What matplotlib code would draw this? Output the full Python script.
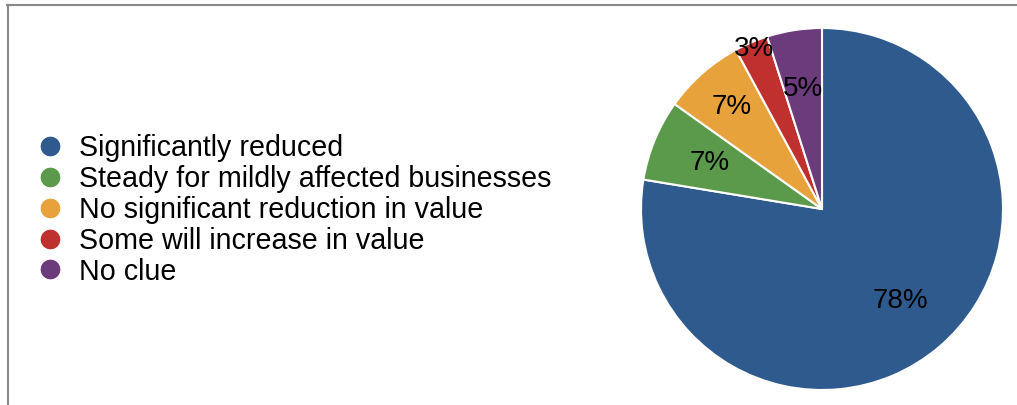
import numpy as np
import matplotlib
matplotlib.use('Agg')
import matplotlib.pyplot as plt
from matplotlib.lines import Line2D

plt.rcParams['font.family'] = ['Liberation Sans', 'DejaVu Sans']

labels = ['Significantly reduced', 'Steady for mildly affected businesses',
          'No significant reduction in value', 'Some will increase in value', 'No clue']
shares = [77.6, 7.25, 7.25, 3.0, 4.9]
colors = ['#2e5a8e', '#5b9a4a', '#e8a23c', '#c0302f', '#6c3b7c']

W, H = 1017, 405
fig = plt.figure(figsize=(W / 100, H / 100), dpi=100)

# pie axes: centre (822, 209) px, radius 181 px
cx, cy, r = 822, 209, 181
ax = fig.add_axes([(cx - r) / W, (H - cy - r) / H, 2 * r / W, 2 * r / H])
wedges, texts, autotexts = ax.pie(
    shares, colors=colors, startangle=90, counterclock=False,
    autopct='%.0f%%', pctdistance=0.67, radius=1,
    wedgeprops=dict(edgecolor='white', linewidth=1.5),
    textprops=dict(fontsize=20, color='black'))
ax.set_xlim(-1, 1)
ax.set_ylim(-1, 1)

# some labels sit further out, as in the original
for i, dist in [(2, 0.75), (3, 0.96)]:
    w = wedges[i]
    mid = np.deg2rad((w.theta1 + w.theta2) / 2)
    autotexts[i].set_position((dist * np.cos(mid), dist * np.sin(mid)))

handles = [Line2D([], [], marker='o', linestyle='none', markersize=15,
                  markerfacecolor=c, markeredgecolor='white', markeredgewidth=0.8)
           for c in colors]
fig.legend(handles, labels, loc='center left', bbox_to_anchor=(0.021, 0.482),
           frameon=False, fontsize=20.6, handlelength=1.0, handletextpad=0.5,
           labelspacing=0.1, borderpad=0)

# partial frame (top and left)
fig.add_artist(Line2D([7 / W, 1], [1 - 5 / H, 1 - 5 / H], transform=fig.transFigure,
                      color='#888888', linewidth=1.5))
fig.add_artist(Line2D([8 / W, 8 / W], [0, 1 - 5 / H], transform=fig.transFigure,
                      color='#888888', linewidth=1.5))

fig.savefig('out.png', dpi=100, facecolor='white')
